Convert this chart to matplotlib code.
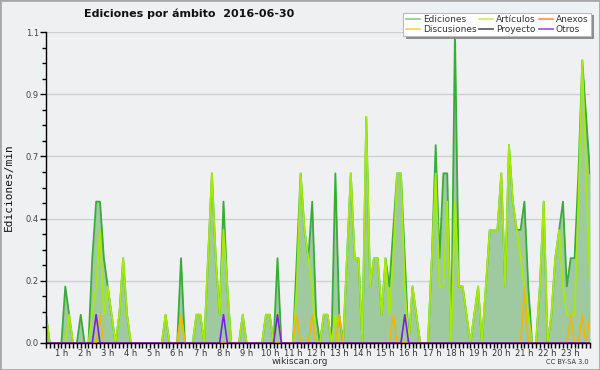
import matplotlib
matplotlib.use("Agg")
import matplotlib.pyplot as plt
from matplotlib.lines import Line2D
from matplotlib.patches import Rectangle
from matplotlib.ticker import FixedLocator, MultipleLocator, FuncFormatter
import numpy as np

# 10-minute samples from 00:20 to 23:50 (edits per minute)
ediciones = [
    0.1, 0, 0, 0, 0, 0.2, 0.1, 0, 0, 0.1, 0, 0,
    0.3, 0.5, 0.5, 0.3, 0.2, 0.1, 0, 0.1, 0.3, 0.1, 0, 0,
    0, 0, 0, 0, 0, 0, 0, 0.1, 0, 0, 0, 0.3,
    0, 0, 0, 0.1, 0.1, 0, 0.3, 0.6, 0.3, 0.1, 0.5, 0.2,
    0, 0, 0, 0.1, 0, 0, 0, 0, 0, 0.1, 0.1, 0,
    0.3, 0, 0, 0, 0, 0.3, 0.6, 0.4, 0.3, 0.5, 0.1, 0,
    0.1, 0.1, 0, 0.6, 0.1, 0, 0.3, 0.6, 0.3, 0.3, 0, 0.8,
    0.2, 0.3, 0.3, 0.1, 0.3, 0.2, 0.4, 0.6, 0.6, 0.3, 0, 0.2,
    0.1, 0, 0, 0, 0.3, 0.7, 0.3, 0.6, 0.6, 0, 1.1, 0.2,
    0.2, 0.1, 0, 0.1, 0.2, 0, 0.2, 0.4, 0.4, 0.4, 0.6, 0.2,
    0.7, 0.5, 0.4, 0.4, 0.5, 0.2, 0, 0, 0.2, 0.5, 0, 0.1,
    0.3, 0.4, 0.5, 0.2, 0.3, 0.3, 0.6, 1.0, 0.8, 0.6,
]
articulos = [
    0.1, 0, 0, 0, 0, 0, 0.1, 0, 0, 0, 0, 0,
    0.1, 0.2, 0.4, 0.1, 0.2, 0.1, 0, 0.1, 0.3, 0.1, 0, 0,
    0, 0, 0, 0, 0, 0, 0, 0.1, 0, 0, 0, 0.1,
    0, 0, 0, 0.1, 0.1, 0, 0.3, 0.6, 0.3, 0.1, 0.4, 0.2,
    0, 0, 0, 0.1, 0, 0, 0, 0, 0, 0.1, 0.1, 0,
    0.1, 0, 0, 0, 0, 0.2, 0.6, 0.4, 0.3, 0.2, 0, 0,
    0.1, 0.1, 0, 0.1, 0, 0, 0.3, 0.6, 0.3, 0.3, 0, 0.8,
    0.2, 0.3, 0.3, 0.1, 0.3, 0.1, 0.3, 0.6, 0.6, 0.2, 0, 0.2,
    0.1, 0, 0, 0, 0.3, 0.6, 0.2, 0.2, 0.5, 0, 0.5, 0.2,
    0.2, 0.1, 0, 0.1, 0.2, 0, 0.2, 0.4, 0.4, 0.4, 0.6, 0.2,
    0.7, 0.5, 0.4, 0.3, 0.2, 0.1, 0, 0, 0.2, 0.5, 0, 0.1,
    0.3, 0.4, 0.2, 0.1, 0.1, 0.1, 0.5, 1.0, 0.6, 0.2,
]
discusiones = [
    0, 0, 0, 0, 0, 0, 0, 0, 0, 0, 0, 0,
    0, 0, 0.1, 0, 0, 0, 0, 0, 0, 0, 0, 0,
    0, 0, 0, 0, 0, 0, 0, 0, 0, 0, 0, 0.1,
    0, 0, 0, 0, 0, 0, 0, 0, 0, 0, 0, 0,
    0, 0, 0, 0, 0, 0, 0, 0, 0, 0, 0, 0,
    0, 0, 0, 0, 0, 0.1, 0, 0, 0, 0.1, 0, 0,
    0, 0, 0, 0, 0.1, 0, 0, 0, 0, 0, 0, 0,
    0, 0, 0, 0, 0, 0, 0.1, 0, 0, 0, 0, 0,
    0, 0, 0, 0, 0, 0, 0, 0, 0, 0, 0, 0,
    0, 0, 0, 0, 0, 0, 0, 0, 0, 0, 0, 0,
    0, 0, 0, 0, 0.2, 0, 0, 0, 0, 0, 0, 0,
    0, 0, 0, 0, 0.1, 0, 0, 0.1, 0, 0.1,
]
otros = [
    0, 0, 0, 0, 0, 0, 0, 0, 0, 0, 0, 0,
    0, 0.1, 0, 0, 0, 0, 0, 0, 0, 0, 0, 0,
    0, 0, 0, 0, 0, 0, 0, 0, 0, 0, 0, 0,
    0, 0, 0, 0, 0, 0, 0, 0, 0, 0, 0.1, 0,
    0, 0, 0, 0, 0, 0, 0, 0, 0, 0, 0, 0,
    0.1, 0, 0, 0, 0, 0, 0, 0, 0, 0, 0, 0,
    0, 0, 0, 0, 0, 0, 0, 0, 0, 0, 0, 0,
    0, 0, 0, 0, 0, 0, 0, 0, 0, 0.1, 0, 0,
    0, 0, 0, 0, 0, 0, 0, 0, 0, 0, 0, 0,
    0, 0, 0, 0, 0, 0, 0, 0, 0, 0, 0, 0,
    0, 0, 0, 0, 0, 0, 0, 0, 0, 0, 0, 0,
    0, 0, 0, 0, 0, 0, 0, 0, 0, 0,
]
anexos = [0] * len(ediciones)
proyecto = [0] * len(ediciones)

hours = list(range(1, 24))
hour_labels = [f"{h} h" for h in hours]
legend_names = ["Ediciones", "Discusiones", "Artículos", "Proyecto", "Anexos", "Otros"]

x = np.arange(len(ediciones))
BG = "#eff0f2"

fig = plt.figure(figsize=(6, 3.7), dpi=100, facecolor=BG)
ax = fig.add_axes([46 / 600, 1 - 343 / 370, 544 / 600, 311 / 370])
ax.set_facecolor(BG)

ax.fill_between(x, ediciones, 0, color="#9fca9f", lw=0, zorder=2)
ax.plot(x, anexos, color="#ff7733", lw=1.2, zorder=3)
ax.plot(x, proyecto, color="#555555", lw=1.2, zorder=3)
ax.plot(x, ediciones, color="#3aab3a", lw=1.3, zorder=4)
ax.plot(x, articulos, color="#a6ea0c", lw=1.3, zorder=5)
ax.plot(x, discusiones, color="#f2b705", lw=1.2, zorder=6)
ax.plot(x, otros, color="#7a22e0", lw=1.2, zorder=7)

ax.set_xlim(0, len(ediciones) - 1)
ax.set_ylim(0, 1.1)

# y axis
ax.yaxis.set_major_locator(FixedLocator([k * 0.22 for k in range(6)]))
ax.yaxis.set_minor_locator(FixedLocator([k * 0.055 for k in range(21)]))
ax.yaxis.set_major_formatter(FuncFormatter(lambda v, p: f"{v:.1f}"))
ax.yaxis.grid(True, which="major", color="#cfd0d2", lw=1)
ax.set_axisbelow(True)

# x axis
ax.xaxis.set_major_locator(FixedLocator([6 * h - 2 for h in hours]))
ax.set_xticklabels(hour_labels)
ax.xaxis.set_minor_locator(MultipleLocator(1))

ax.tick_params(axis="x", which="both", direction="out", length=3.5, width=1,
               color="black", labelsize=6, pad=0.5, labelcolor="#333333")
ax.tick_params(axis="y", which="major", direction="out", length=4, width=1,
               color="black", labelsize=6, pad=1, labelcolor="#444444")
ax.tick_params(axis="y", which="minor", direction="out", length=3, width=1,
               color="black")

for s in ("top", "right"):
    ax.spines[s].set_visible(False)
for s in ("left", "bottom"):
    ax.spines[s].set_color("black")
    ax.spines[s].set_linewidth(1)
    ax.spines[s].set_zorder(10)

# texts
fig.text(189 / 600, 1 - 14 / 370, "Ediciones por ámbito  2016-06-30", ha="center",
         va="center", fontsize=8, fontweight="bold", color="#111111")
fig.text(9 / 600, 1 - 187 / 370, "Ediciones/min", rotation=90, ha="center", va="center",
         fontsize=8, family="DejaVu Sans Mono", color="#111111")
fig.text(0.5, 1 - 361 / 370, "wikiscan.org", ha="center", va="center",
         fontsize=6.5, color="#333333")
fig.text(589 / 600, 1 - 362 / 370, "CC BY-SA 3.0", ha="right", va="center",
         fontsize=4.8, color="#333333")

# legend
leg_colors = ["#86cc86", "#ffd24a", "#cdea6a", "#555555", "#ff8f5a", "#9a4de6"]
handles = [Line2D([], [], color=c, lw=1.2) for c in leg_colors]
leg = fig.legend(handles, legend_names, ncol=3, loc="upper right",
                 bbox_to_anchor=(591 / 600, 1 - 12.5 / 370), fontsize=6.5,
                 frameon=True, fancybox=False,
                 shadow={"facecolor": "#8c8c8c", "edgecolor": "none", "alpha": 1},
                 framealpha=1,
                 handlelength=1.5, handletextpad=0.35, columnspacing=0.35,
                 labelspacing=0.05, borderpad=0.3, borderaxespad=0)
leg.get_frame().set_facecolor("white")
leg.get_frame().set_edgecolor("#bbbbbb")
leg.get_frame().set_linewidth(0.8)
for t in leg.get_texts():
    t.set_color("#333333")

fig.patches.append(Rectangle((0, 0), 1, 1, transform=fig.transFigure, fill=False,
                             edgecolor="#a8a8a8", lw=2))

fig.savefig("out.png", dpi=100, facecolor=BG)
